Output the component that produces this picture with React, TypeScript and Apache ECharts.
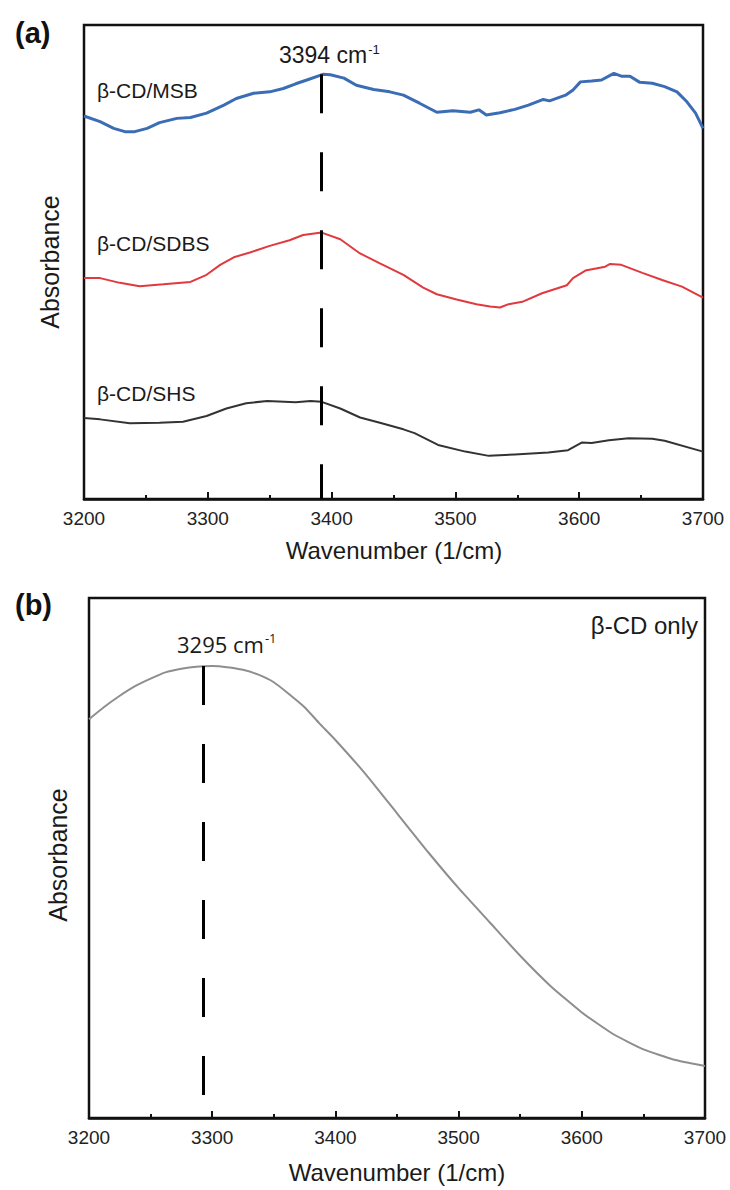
import React, { useEffect, useRef } from "react";
import * as echarts from "echarts";

// ---------- Data ----------
const wavenumberRange = [3200, 3700];

// Panel (a) – β-CD/MSB (blue)
const msbWavenumber = [3200, 3213, 3224, 3233, 3241, 3251, 3261, 3275, 3286, 3299, 3313, 3323, 3337, 3350, 3361, 3371, 3380, 3393, 3399, 3410, 3420, 3434, 3447, 3458, 3471, 3485, 3498, 3512, 3519, 3525, 3536, 3548, 3559, 3571, 3576, 3589, 3595, 3601, 3610, 3618, 3628, 3634, 3641, 3649, 3659, 3669, 3679, 3687, 3694, 3700];
const msbAbsorbance = [0.808, 0.796, 0.782, 0.775, 0.775, 0.782, 0.794, 0.803, 0.805, 0.814, 0.831, 0.845, 0.856, 0.859, 0.866, 0.876, 0.884, 0.896, 0.895, 0.888, 0.873, 0.864, 0.859, 0.852, 0.835, 0.816, 0.819, 0.816, 0.821, 0.810, 0.815, 0.822, 0.831, 0.843, 0.840, 0.852, 0.863, 0.880, 0.882, 0.884, 0.898, 0.892, 0.892, 0.879, 0.877, 0.870, 0.859, 0.838, 0.814, 0.782];

// Panel (a) – β-CD/SDBS (red)
const sdbsWavenumber = [3200, 3213, 3229, 3245, 3264, 3286, 3299, 3310, 3321, 3334, 3350, 3366, 3377, 3392, 3407, 3423, 3439, 3458, 3474, 3485, 3501, 3517, 3528, 3536, 3543, 3554, 3570, 3590, 3595, 3605, 3621, 3625, 3634, 3651, 3667, 3683, 3700];
const sdbsAbsorbance = [0.466, 0.466, 0.456, 0.449, 0.453, 0.458, 0.473, 0.494, 0.510, 0.520, 0.534, 0.546, 0.557, 0.562, 0.548, 0.518, 0.497, 0.473, 0.446, 0.432, 0.421, 0.411, 0.406, 0.404, 0.411, 0.416, 0.434, 0.451, 0.466, 0.482, 0.490, 0.496, 0.494, 0.477, 0.462, 0.448, 0.425];

// Panel (a) – β-CD/SHS (black)
const shsWavenumber = [3200, 3213, 3237, 3261, 3280, 3299, 3315, 3331, 3348, 3371, 3383, 3392, 3407, 3423, 3439, 3458, 3467, 3486, 3508, 3527, 3548, 3575, 3591, 3602, 3610, 3624, 3640, 3659, 3669, 3700];
const shsAbsorbance = [0.171, 0.168, 0.160, 0.161, 0.163, 0.175, 0.191, 0.202, 0.207, 0.204, 0.207, 0.205, 0.191, 0.172, 0.161, 0.147, 0.139, 0.114, 0.100, 0.091, 0.094, 0.098, 0.103, 0.119, 0.118, 0.124, 0.128, 0.127, 0.123, 0.100];

// Panel (b) – β-CD only (grey)
const cdWavenumber = [3200, 3212, 3225, 3237, 3250, 3262, 3275, 3287, 3300, 3312, 3325, 3337, 3350, 3362, 3375, 3387, 3400, 3425, 3450, 3475, 3500, 3525, 3550, 3575, 3600, 3625, 3650, 3675, 3700];
const cdAbsorbance = [0.767, 0.790, 0.812, 0.830, 0.845, 0.857, 0.864, 0.868, 0.869, 0.867, 0.862, 0.853, 0.838, 0.816, 0.790, 0.759, 0.727, 0.660, 0.586, 0.512, 0.442, 0.377, 0.312, 0.253, 0.203, 0.162, 0.132, 0.112, 0.100];

// Peak markers [wavenumber drawn, absorbance at top of marker]
const peakA = { label: "3394", wavenumber: 3392, top: 0.896 };
const peakB = { label: "3295", wavenumber: 3293, top: 0.869 };

const seriesLabels = ["β-CD/MSB", "β-CD/SDBS", "β-CD/SHS", "β-CD only"];

const FONT = "'Liberation Sans', Arial, sans-serif";
const INK = "#1a1a1a";

const zip = (xs: number[], ys: number[]) => xs.map((x, i) => [x, ys[i]]);

const makeX = (gridIndex: number) => ({
  type: "value",
  gridIndex,
  min: wavenumberRange[0],
  max: wavenumberRange[1],
  interval: 100,
  axisLine: { show: true, onZero: false, lineStyle: { color: "#111", width: 2.5 } },
  axisTick: { show: true, inside: true, length: 7, lineStyle: { color: "#111", width: 2 } },
  minorTick: { show: true, splitNumber: 2, length: 4, lineStyle: { color: "#111", width: 2 } },
  splitLine: { show: false },
  minorSplitLine: { show: false },
  axisLabel: {
    fontSize: 19,
    color: "#222",
    margin: 10,
    fontFamily: FONT,
    formatter: (v: number) => String(v),
  },
});

const makeY = (gridIndex: number) => ({
  type: "value",
  gridIndex,
  min: 0,
  max: 1,
  show: false,
});

const dashLine = (wn: number, top: number) => ({
  symbol: "none",
  silent: true,
  animation: false,
  label: { show: false },
  lineStyle: { color: "#000", width: 3, type: [39, 39] },
  data: [[{ coord: [wn, top] }, { coord: [wn, 0] }]],
});

const txt = (text: string, x: number, y: number, extra: any = {}) => ({
  type: "text",
  x,
  y,
  silent: true,
  style: {
    text,
    fill: INK,
    fontFamily: FONT,
    fontSize: 21,
    align: "left",
    verticalAlign: "middle",
    ...extra,
  },
});

const supText = (num: string, x: number, y: number, family: string, size: number) => ({
  type: "text",
  x,
  y,
  silent: true,
  style: {
    text: `{n|${num} cm}{s|-1}`,
    fill: INK,
    align: "left",
    verticalAlign: "middle",
    rich: {
      n: { fontSize: size, fontFamily: family, lineHeight: 26, fill: INK },
      s: { fontSize: 13, fontFamily: family, lineHeight: 14, padding: [0, 0, 12, 1], fill: INK },
    },
  },
});

export default function App() {
  const ref = useRef<HTMLDivElement>(null);

  useEffect(() => {
    document.body.style.margin = "0";
    const chart = echarts.init(ref.current!, null, { renderer: "svg" });
    const option: any = {
      animation: false,
      backgroundColor: "#ffffff",
      grid: [
        { left: 84, top: 25, width: 619, height: 474, show: true, borderColor: "#111", borderWidth: 2.5, backgroundColor: "transparent" },
        { left: 89, top: 598, width: 616, height: 520, show: true, borderColor: "#111", borderWidth: 2.5, backgroundColor: "transparent" },
      ],
      xAxis: [makeX(0), makeX(1)],
      yAxis: [makeY(0), makeY(1)],
      series: [
        {
          name: seriesLabels[0],
          type: "line",
          xAxisIndex: 0,
          yAxisIndex: 0,
          data: zip(msbWavenumber, msbAbsorbance),
          showSymbol: false,
          lineStyle: { color: "#3b6db5", width: 3 },
          markLine: dashLine(peakA.wavenumber, peakA.top),
          z: 3,
        },
        {
          name: seriesLabels[1],
          type: "line",
          xAxisIndex: 0,
          yAxisIndex: 0,
          data: zip(sdbsWavenumber, sdbsAbsorbance),
          showSymbol: false,
          lineStyle: { color: "#e0393e", width: 2 },
          z: 2,
        },
        {
          name: seriesLabels[2],
          type: "line",
          xAxisIndex: 0,
          yAxisIndex: 0,
          data: zip(shsWavenumber, shsAbsorbance),
          showSymbol: false,
          lineStyle: { color: "#333333", width: 2 },
          z: 2,
        },
        {
          name: seriesLabels[3],
          type: "line",
          xAxisIndex: 1,
          yAxisIndex: 1,
          data: zip(cdWavenumber, cdAbsorbance),
          showSymbol: false,
          smooth: 0.15,
          lineStyle: { color: "#8e8e8e", width: 2 },
          markLine: dashLine(peakB.wavenumber, peakB.top),
        },
      ],
      graphic: [
        txt("(a)", 15, 33, { fontSize: 29, fontWeight: "bold", fill: "#111" }),
        txt("(b)", 15, 605, { fontSize: 29, fontWeight: "bold", fill: "#111" }),
        supText(peakA.label, 279, 55, FONT, 23),
        supText(peakB.label, 177, 644, "'Open Sans', sans-serif", 22),
        txt(seriesLabels[0], 97, 90),
        txt(seriesLabels[1], 97, 243),
        txt(seriesLabels[2], 97, 393),
        txt(seriesLabels[3], 698, 625, { fontSize: 24, align: "right" }),
        txt("Wavenumber (1/cm)", 394, 550, { fontSize: 24, align: "center" }),
        txt("Wavenumber (1/cm)", 397, 1172, { fontSize: 24, align: "center" }),
        { ...txt("Absorbance", 50, 262, { fontSize: 25, align: "center" }), rotation: Math.PI / 2 },
        { ...txt("Absorbance", 58, 855, { fontSize: 25, align: "center" }), rotation: Math.PI / 2 },
      ],
    };
    chart.setOption(option);
    return () => chart.dispose();
  }, []);

  return <div ref={ref} style={{ width: 730, height: 1190 }} />;
}
